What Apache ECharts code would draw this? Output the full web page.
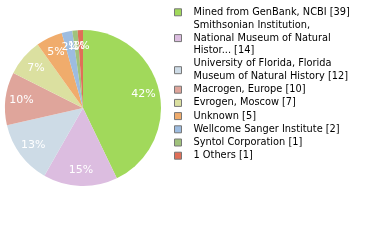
<!DOCTYPE html>
<html><head><meta charset="utf-8">
<script src="https://cdn.jsdelivr.net/npm/echarts@6/dist/echarts.min.js"></script>
<style>html,body{margin:0;padding:0;background:#fff}#c{width:380px;height:240px}</style>
</head><body><div id="c"></div>
<script>
var categories = ["Mined from GenBank, NCBI", "Smithsonian Institution,\nNational Museum of Natural\nHistor...", "University of Florida, Florida\nMuseum of Natural History", "Macrogen, Europe", "Evrogen, Moscow", "Unknown", "Wellcome Sanger Institute", "Syntol Corporation", "1 Others"];
var values = [39, 14, 12, 10, 7, 5, 2, 1, 1];
var colors = ["#a1d95b", "#dcbde0", "#cddbe6", "#dfa59b", "#dbe0a0", "#f0ac6c", "#9dbce0", "#a0c27c", "#e06f58"];
var total = values.reduce(function(a,b){return a+b;},0);
var data = categories.map(function(n,i){return {name:n, value:values[i], itemStyle:{color:colors[i]}};});
var chart = echarts.init(document.getElementById('c'), null, {renderer:'canvas'});
chart.setOption({
  animation:false,
  legend:{orient:'vertical', left:169, top:1, itemWidth:7, itemHeight:7, itemGap:0.6, icon:'rect',
    itemStyle:{borderColor:'#777', borderWidth:1},
    textStyle:{fontFamily:'DejaVu Sans', fontSize:9.8, color:'#000', lineHeight:12.6, padding:[0,0,0,7]},
    formatter:function(n){return n+' ['+values[categories.indexOf(n)]+']';},
    data:categories},
  series:[
    {type:'pie', center:[83,108], radius:[0,78], startAngle:90, clockwise:true, label:{show:false}, labelLine:{show:false}, silent:true, data:data},
    {type:'pie', center:[83,108], radius:[40,78], startAngle:90, clockwise:true, silent:true, legendHoverLink:false,
      avoidLabelOverlap:false, labelLayout:{hideOverlap:false},
      itemStyle:{color:'transparent'},
      label:{show:true, position:'inside', color:'#fff', fontFamily:'DejaVu Sans', fontSize:11,
        formatter:function(p){return Math.floor(p.value/total*100)+'%';}},
      labelLine:{show:false},
      data:categories.map(function(n,i){return {name:n+' ', value:values[i], itemStyle:{color:'rgba(0,0,0,0)'}};})}
  ]
});
</script></body></html>
